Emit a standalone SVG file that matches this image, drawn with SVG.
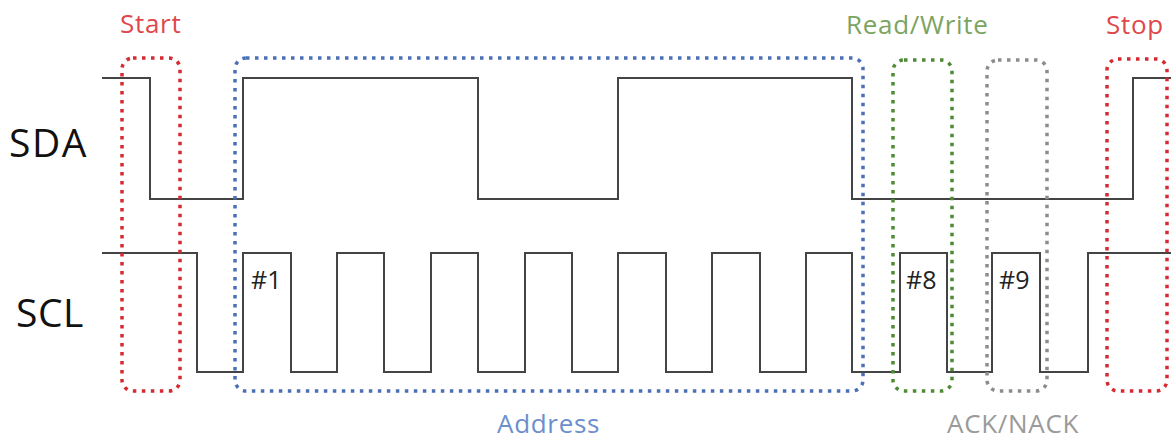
<svg xmlns="http://www.w3.org/2000/svg" width="1171" height="439" viewBox="0 0 1171 439">
<style>
.sig{fill:none;stroke:#444;stroke-width:2;stroke-linejoin:miter}
.box{fill:none;stroke-width:3.5;stroke-dasharray:3.5 5.5}
.lbl{font-family:"Open Sans","Noto Sans","Liberation Sans",sans-serif}
.cap{font-size:26px;letter-spacing:0.7px}
</style>
<rect width="1171" height="439" fill="#fff"/>
<g id="signals">
<path id="sda" class="sig" d="M102,78 H150 V199 H243 V78 H478 V199 H618 V78 H852 V199 H1133 V78 H1171"/>
<path id="scl" class="sig" d="M102,253 H197 V372 H243 V253 H291 V372 H337 V253 H384 V372 H431 V253 H478 V372 H525 V253 H572 V372 H618 V253 H666 V372 H712 V253 H760 V372 H806 V253 H852 V372 H900 V253 H947 V372 H992 V253 H1040 V372 H1088 V253 H1171"/>
</g>
<g id="start">
<rect class="box" x="122" y="58" width="58" height="333" rx="11" stroke="#d42a30"/>
<text class="lbl cap" x="120" y="33" fill="#e0474c">Start</text>
</g>
<g id="address">
<rect class="box" x="235" y="58" width="628" height="333" rx="11" stroke="#4a70b8"/>
<text class="lbl cap" x="497" y="433" fill="#6b8fcc">Address</text>
</g>
<g id="readwrite">
<rect class="box" x="893" y="60" width="59" height="331" rx="11" stroke="#4f8a35"/>
<text class="lbl cap" x="846" y="34" fill="#7ba461">Read/Write</text>
</g>
<g id="acknack">
<rect class="box" x="987" y="60" width="60" height="331" rx="11" stroke="#8c8c8c"/>
<text class="lbl cap" x="947" y="433" fill="#9a9a9a">ACK/NACK</text>
</g>
<g id="stop">
<rect class="box" x="1107" y="59" width="60" height="332" rx="11" stroke="#d42a30"/>
<text class="lbl cap" x="1106" y="34" fill="#e0474c">Stop</text>
</g>
<g id="labels">
<text class="lbl" x="9" y="157" font-size="39" letter-spacing="1.5" fill="#111">SDA</text>
<text class="lbl" x="16" y="327" font-size="39" letter-spacing="0.5" fill="#111">SCL</text>
<text class="lbl" x="251" y="289" font-size="25" fill="#222">#1</text>
<text class="lbl" x="906" y="289" font-size="25" fill="#222">#8</text>
<text class="lbl" x="999" y="289" font-size="25" fill="#222">#9</text>
</g>
</svg>
